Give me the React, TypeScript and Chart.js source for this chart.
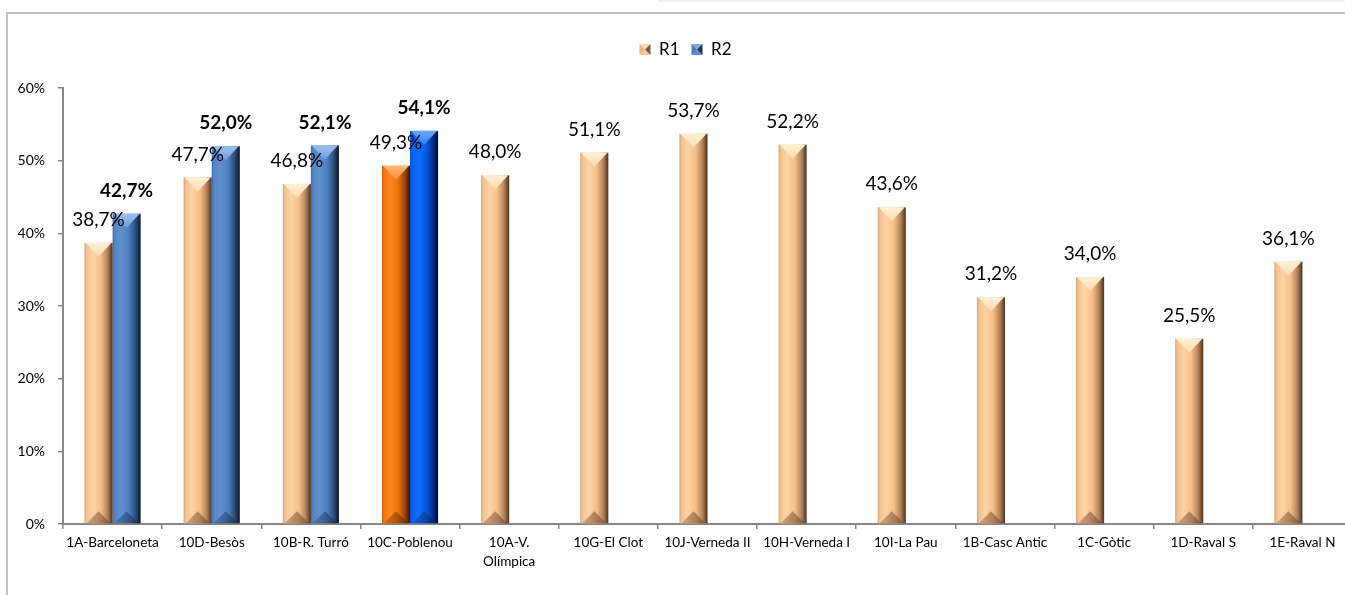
import React, { useEffect, useRef } from 'react';
import { Chart, registerables } from 'chart.js';

Chart.register(...registerables);

// ---------- data ----------
const categories: (string | string[])[] = [
  '1A-Barceloneta',
  '10D-Besòs',
  '10B-R. Turró',
  '10C-Poblenou',
  ['10A-V.', 'Olímpica'],
  '10G-El Clot',
  '10J-Verneda II',
  '10H-Verneda I',
  '10I-La Pau',
  '1B-Casc Antic',
  '1C-Gòtic',
  '1D-Raval S',
  '1E-Raval N',
];
const seriesNames = ['R1', 'R2'];
const r1Values: (number | null)[] = [38.7, 47.7, 46.8, 49.3, 48.0, 51.1, 53.7, 52.2, 43.6, 31.2, 34.0, 25.5, 36.1];
const r2Values: (number | null)[] = [42.7, 52.0, 52.1, 54.1, null, null, null, null, null, null, null, null, null];
const yTicks = [0, 10, 20, 30, 40, 50, 60];
const highlightCategory = '10C-Poblenou';

// ---------- styles ----------
const FONT = "Lato, 'Open Sans', sans-serif";
type Pal = {
  body: [number, string][];
  top: [string, string];
  bottom: [string, string, string];
  solid: string;
  legend: [string, string, string, string];
};
const PALETTES: Record<string, Pal> = {
  peach: {
    body: [[0, '#d2a176'], [0.07, '#f3c190'], [0.3, '#ffd3a3'], [0.58, '#f4bf8a'], [0.82, '#b38259'], [1, '#4a321e']],
    top: ['#fff1d6', '#ffdcae'],
    bottom: ['#caa07a', '#a87b54', '#6a4a2f'],
    solid: '#f5bf8b',
    legend: ['#ffd9ae', '#e9b483', '#f6c494', '#7d5a3c'],
  },
  blue: {
    body: [[0, '#3d69a6'], [0.07, '#5483c3'], [0.3, '#5f90d0'], [0.58, '#4f7fbf'], [0.82, '#2b4b7a'], [1, '#0b1626']],
    top: ['#9cc0ee', '#6f9dd9'],
    bottom: ['#4d75ac', '#34598c', '#142540'],
    solid: '#4f81bd',
    legend: ['#7fa8dc', '#4a78b4', '#5b8bc8', '#1d3456'],
  },
  orange: {
    body: [[0, '#cf5b06'], [0.07, '#f27812'], [0.3, '#ff871f'], [0.58, '#ec710d'], [0.82, '#984405'], [1, '#381600']],
    top: ['#ffb873', '#ff9537'],
    bottom: ['#d06a1c', '#a9520c', '#4a1e00'],
    solid: '#f57a14',
    legend: ['#ffa656', '#e06a10', '#f27812', '#5a2400'],
  },
  brightBlue: {
    body: [[0, '#0446c4'], [0.07, '#0a61ec'], [0.3, '#0e6dff'], [0.58, '#0658e0'], [0.82, '#023089'], [1, '#000b2e']],
    top: ['#6aa9ff', '#2f82ff'],
    bottom: ['#1a5cc8', '#0a45a6', '#001445'],
    solid: '#0d6cff',
    legend: ['#4a96ff', '#0a55d8', '#0d6cff', '#001e60'],
  },
};

function paletteFor(datasetIndex: number, dataIndex: number): Pal {
  const isHi = categories[dataIndex] === highlightCategory;
  if (datasetIndex === 0) return isHi ? PALETTES.orange : PALETTES.peach;
  return isHi ? PALETTES.brightBlue : PALETTES.blue;
}

function fmt(v: number) {
  return v.toFixed(1).replace('.', ',') + '%';
}

function drawBevelBar(ctx: CanvasRenderingContext2D, x: number, y: number, base: number, w: number, pal: Pal) {
  const l = x - w / 2;
  const r = x + w / 2;
  const t = Math.min(y, base);
  const b = Math.max(y, base);
  const h = b - t;
  if (h <= 0) return;
  const bev = Math.min(w / 2, h / 2);
  ctx.save();
  const g = ctx.createLinearGradient(l, 0, r, 0);
  pal.body.forEach(([o, c]) => g.addColorStop(o, c));
  ctx.fillStyle = g;
  ctx.fillRect(l, t, w, h);

  const gt = ctx.createLinearGradient(0, t, 0, t + bev);
  gt.addColorStop(0, pal.top[0]);
  gt.addColorStop(1, pal.top[1]);
  ctx.fillStyle = gt;
  ctx.beginPath();
  ctx.moveTo(l + 1, t);
  ctx.lineTo(r - 1, t);
  ctx.lineTo(x, t + bev);
  ctx.closePath();
  ctx.fill();

  const gb = ctx.createLinearGradient(l, 0, r, 0);
  gb.addColorStop(0, pal.bottom[0]);
  gb.addColorStop(0.5, pal.bottom[1]);
  gb.addColorStop(1, pal.bottom[2]);
  ctx.fillStyle = gb;
  ctx.globalAlpha = 0.85;
  ctx.beginPath();
  ctx.moveTo(l + 2, b);
  ctx.lineTo(r - 2, b);
  ctx.lineTo(x, b - bev * 0.85);
  ctx.closePath();
  ctx.fill();
  ctx.restore();
}

function drawLegendBox(ctx: CanvasRenderingContext2D, l: number, t: number, s: number, pal: Pal) {
  const r = l + s;
  const b = t + s;
  const cx = l + s / 2;
  const cy = t + s / 2;
  const tri = (pts: number[][], c: string) => {
    ctx.fillStyle = c;
    ctx.beginPath();
    ctx.moveTo(pts[0][0], pts[0][1]);
    for (let i = 1; i < pts.length; i++) ctx.lineTo(pts[i][0], pts[i][1]);
    ctx.closePath();
    ctx.fill();
  };
  tri([[l, t], [r, t], [cx, cy]], pal.legend[0]);
  tri([[l, t], [cx, cy], [l, b]], pal.legend[1]);
  tri([[l, b], [cx, cy], [r, b]], pal.legend[2]);
  tri([[r, t], [r, b], [cx, cy]], pal.legend[3]);
}

const BOX = 11;

const bevelBars = {
  id: 'bevelBars',
  beforeDatasetDraw(chart: any, args: any) {
    const ctx: CanvasRenderingContext2D = chart.ctx;
    const meta = args.meta;
    const di = args.index;
    meta.data.forEach((el: any, i: number) => {
      const v = chart.data.datasets[di].data[i];
      if (v === null || v === undefined) return;
      const p = el.getProps(['x', 'y', 'base', 'width'], true);
      drawBevelBar(ctx, p.x, p.y, p.base, p.width, paletteFor(di, i));
    });
    return false;
  },
  afterDatasetsDraw(chart: any) {
    const ctx: CanvasRenderingContext2D = chart.ctx;
    ctx.save();
    ctx.fillStyle = '#000';
    ctx.textAlign = 'center';
    ctx.textBaseline = 'middle';
    chart.data.datasets.forEach((ds: any, di: number) => {
      const meta = chart.getDatasetMeta(di);
      ctx.font = (di === 1 ? 'bold ' : '') + '19px ' + FONT;
      meta.data.forEach((el: any, i: number) => {
        const v = ds.data[i];
        if (v === null || v === undefined) return;
        const p = el.getProps(['x', 'y'], true);
        ctx.fillText(fmt(v), p.x, p.y - 23);
      });
    });
    ctx.restore();
  },
  afterDraw(chart: any) {
    const lg = chart.legend;
    if (!lg || !lg.legendHitBoxes) return;
    const ctx: CanvasRenderingContext2D = chart.ctx;
    ctx.save();
    lg.legendHitBoxes.forEach((hb: any, i: number) => {
      const top = hb.top + (hb.height - BOX) / 2;
      ctx.fillStyle = '#fff';
      ctx.fillRect(hb.left - 1, top - 1, BOX + 2, BOX + 2);
      drawLegendBox(ctx, hb.left, top, BOX, paletteFor(i, 0));
    });
    ctx.restore();
  },
};

const LEGEND_GAP = 20;
const LEGEND_SHIFT = 11;
const legendGap = {
  id: 'legendGap',
  beforeLayout(chart: any) {
    const lg = chart.legend;
    if (lg && !lg.__gapPatched) {
      const orig = lg.fit;
      lg.fit = function (this: any) {
        orig.call(this);
        this.height += LEGEND_GAP;
        if (this.lineWidths && this.lineWidths.length) this.lineWidths[0] -= LEGEND_SHIFT;
      };
      lg.__gapPatched = true;
    }
  },
};

export default function App() {
  const ref = useRef<HTMLCanvasElement | null>(null);

  useEffect(() => {
    if (!ref.current) return;
    const axisColor = '#868686';
    const chart = new Chart(ref.current, {
      type: 'bar',
      data: {
        labels: categories as any,
        datasets: [
          {
            label: seriesNames[0],
            data: r1Values,
            backgroundColor: r1Values.map((_, i) => paletteFor(0, i).solid),
            borderWidth: 0,
            categoryPercentage: 0.566,
            barPercentage: 1,
          },
          {
            label: seriesNames[1],
            data: r2Values,
            backgroundColor: r2Values.map((_, i) => paletteFor(1, i).solid),
            borderWidth: 0,
            categoryPercentage: 0.566,
            barPercentage: 1,
          },
        ],
      },
      options: {
        animation: false,
        responsive: false,
        layout: { padding: { top: 15, left: 0, right: 0, bottom: 0 } },
        plugins: {
          legend: {
            position: 'top',
            labels: {
              boxWidth: BOX,
              boxHeight: BOX,
              padding: 12,
              color: '#000',
              font: { size: 17, family: FONT },
            },
          },
          tooltip: { enabled: false },
        },
        scales: {
          x: {
            grid: {
              display: true,
              offset: true,
              drawOnChartArea: false,
              tickLength: 5,
              color: axisColor,
              lineWidth: 1.5,
            },
            border: { display: true, color: axisColor, width: 2 },
            ticks: {
              color: '#000',
              font: { size: 13.5, family: FONT, lineHeight: 1.35 },
              maxRotation: 0,
              minRotation: 0,
              autoSkip: false,
              padding: 5,
            },
            afterFit: (s: any) => {
              s.height = 71;
            },
          },
          y: {
            min: 0,
            max: 60,
            grid: {
              display: true,
              drawOnChartArea: false,
              tickLength: 5,
              color: axisColor,
              lineWidth: 1.5,
            },
            border: { display: true, color: axisColor, width: 2 },
            ticks: {
              color: '#000',
              font: { size: 14, family: FONT },
              padding: 13,
              callback: (v: any) => v + '%',
            },
            afterBuildTicks: (s: any) => {
              s.ticks = yTicks.map((v) => ({ value: v }));
            },
            afterFit: (s: any) => {
              s.width = 55;
            },
          },
        },
      } as any,
      plugins: [bevelBars as any, legendGap as any],
    });
    return () => chart.destroy();
  }, []);

  return (
    <div
      style={{
        position: 'fixed',
        left: 0,
        top: 0,
        width: 1345,
        height: 595,
        overflow: 'hidden',
        background: '#fff',
      }}
    >
      <div style={{ position: 'absolute', left: 658, top: 0, width: 687, height: 2, background: '#eeeeee' }} />
      <div style={{ position: 'absolute', left: 6, top: 12, width: 1339, height: 2, background: '#c3c3c3' }} />
      <div style={{ position: 'absolute', left: 6, top: 12, width: 2, height: 583, background: '#c3c3c3' }} />
      <div style={{ position: 'absolute', left: 8, top: 14, width: 1337, height: 581, overflow: 'hidden' }}>
        <canvas ref={ref} width={1344} height={581} style={{ display: 'block', width: 1344, height: 581 }} />
      </div>
      <div style={{ position: 'absolute', left: 1320, top: 2, width: 25, height: 10, background: '#fff', zIndex: 5 }} />
    </div>
  );
}
